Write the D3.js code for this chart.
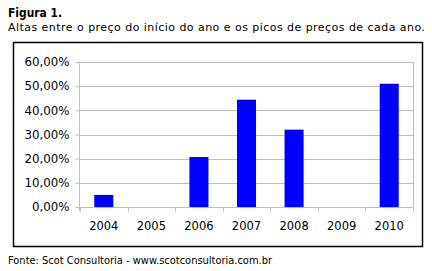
<!DOCTYPE html>
<html>
<head>
<meta charset="utf-8">
<script src="https://cdn.jsdelivr.net/npm/d3@7"></script>
<style>
  body { margin: 0; background: #fff; }
  text { font-family: "DejaVu Sans", Verdana, sans-serif; fill: #000; }
</style>
</head>
<body>
<svg id="chart"></svg>
<script>
// Data
const years = ["2004", "2005", "2006", "2007", "2008", "2009", "2010"];
const altas = [5.0, 0, 20.7, 44.4, 32.0, 0, 51.0];
const yTicks = [0, 10, 20, 30, 40, 50, 60];

const W = 432, H = 271;
const svg = d3.select("#chart").attr("width", W).attr("height", H);

// Plot area
const plot = {left: 80, right: 413, top: 62, bottom: 207};

const x = d3.scaleBand()
    .domain(years)
    .range([plot.left, plot.right])
    .paddingInner(0.6)
    .paddingOuter(0.3);

const y = d3.scaleLinear()
    .domain([0, 60])
    .range([plot.bottom, plot.top]);

// Title
svg.append("text")
    .attr("x", 8).attr("y", 17)
    .attr("textLength", 54).attr("lengthAdjust", "spacingAndGlyphs")
    .style("font-size", "12px").style("font-weight", "bold")
    .text("Figura 1.");

svg.append("text")
    .attr("x", 8).attr("y", 31)
    .attr("textLength", 417).attr("lengthAdjust", "spacing")
    .style("font-size", "11px")
    .text("Altas entre o preço do início do ano e os picos de preços de cada ano.");

// Outer frame
svg.append("rect")
    .attr("x", 13.5).attr("y", 42.5)
    .attr("width", 409).attr("height", 204)
    .attr("fill", "none").attr("stroke", "#000").attr("stroke-width", 1.5);

// Gridlines
svg.append("g")
    .selectAll("line")
    .data(yTicks.filter(d => d > 0))
    .join("line")
    .attr("x1", plot.left).attr("x2", plot.right)
    .attr("y1", d => Math.round(y(d)) + 0.5).attr("y2", d => Math.round(y(d)) + 0.5)
    .attr("stroke", "#bfbfbf");

// Right border of plot
svg.append("line")
    .attr("x1", plot.right + 0.5).attr("x2", plot.right + 0.5)
    .attr("y1", plot.top).attr("y2", plot.bottom)
    .attr("stroke", "#bfbfbf");

// Bars
svg.append("g")
    .selectAll("rect")
    .data(years.map((d, i) => ({year: d, v: altas[i]})).filter(d => d.v > 0))
    .join("rect")
    .attr("x", d => x(d.year))
    .attr("width", x.bandwidth())
    .attr("y", d => y(d.v))
    .attr("height", d => y(0) - y(d.v))
    .attr("fill", "#0000ff");

// Y axis
const yAxis = svg.append("g")
    .attr("transform", `translate(${plot.left - 0.5},0)`)
    .call(d3.axisLeft(y).tickValues(yTicks).tickSize(4).tickPadding(6)
        .tickFormat(d => d3.format(".2f")(d).replace(".", ",") + "%"));
yAxis.selectAll("line, path").attr("stroke", "#bfbfbf");
yAxis.select("path").attr("d", `M0,${plot.top}V${plot.bottom + 4}`);
yAxis.selectAll("text").style("font-size", "11.8px").attr("font-family", null);

// X axis
const xAxis = svg.append("g")
    .attr("transform", `translate(0,${plot.bottom + 0.5})`)
    .call(d3.axisBottom(x).tickSize(0).tickPadding(14));
xAxis.select("path").attr("stroke", "#bfbfbf").attr("d", `M${plot.left},0H${plot.right}`);
xAxis.selectAll("text").style("font-size", "11.5px").attr("font-family", null);
// category boundary ticks
xAxis.append("g")
    .selectAll("line")
    .data(years.concat(["end"]))
    .join("line")
    .attr("x1", (d, i) => Math.round(plot.left + i * x.step()) + 0.5)
    .attr("x2", (d, i) => Math.round(plot.left + i * x.step()) + 0.5)
    .attr("y1", 0).attr("y2", 4)
    .attr("stroke", "#bfbfbf");

// Source
svg.append("text")
    .attr("x", 8).attr("y", 264)
    .attr("textLength", 264).attr("lengthAdjust", "spacingAndGlyphs")
    .style("font-size", "10.5px")
    .text("Fonte: Scot Consultoria - www.scotconsultoria.com.br");
</script>
</body>
</html>
